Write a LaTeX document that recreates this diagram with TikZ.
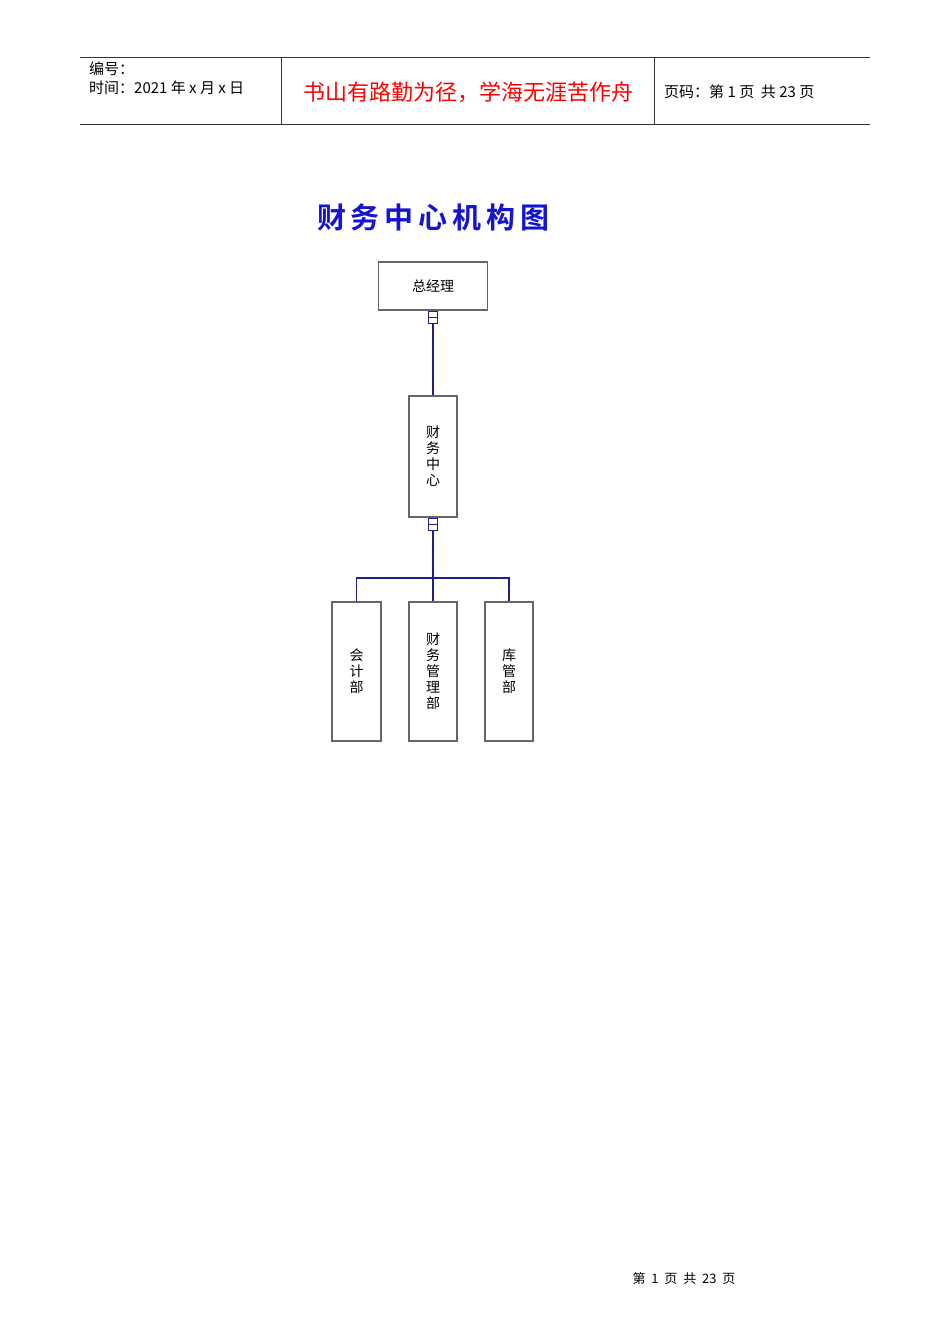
\documentclass[tikz,border=0pt]{standalone}
\usepackage{fontspec}
\newfontfamily\cjk{Noto Sans CJK SC}
\newfontfamily\cjkb{Noto Sans CJK SC Bold}
\begin{document}
\begin{tikzpicture}[x=1pt,y=-1pt,
  hline/.style={line width=0.8pt,black!80},
  box/.style={draw=black!60,line width=1.4pt,inner sep=0pt,font=\cjk\fontsize{14}{16}\selectfont},
  conn/.style={draw={rgb,255:red,30;green,30;blue,140},line width=1.2pt},
  endmark/.style={draw={rgb,255:red,30;green,30;blue,140},line width=1.1pt,minimum width=9pt,minimum height=12pt,inner sep=0pt}]
\useasboundingbox[fill=white] (0,0) rectangle (950,1344);
% header
\draw[hline] (80,57) -- (870,57);
\draw[hline] (80,124) -- (870,124);
\draw[hline] (281,57) -- (281,124);
\draw[hline] (654,57) -- (654,124);
\node[anchor=west,font=\cjk\fontsize{15}{16}\selectfont,inner sep=0pt] (h1) at (89,69) {编号：};
\node[anchor=west,font=\cjk\fontsize{15}{16}\selectfont,inner sep=0pt] (h2) at (89,88) {时间：2021 年 x 月 x 日};
\node[font=\cjk\fontsize{22}{24}\selectfont,text=red,inner sep=0pt] (motto) at (468,92) {书山有路勤为径，学海无涯苦作舟};
\node[anchor=west,font=\cjk\fontsize{15}{16}\selectfont,inner sep=0pt] (pg) at (664,92) {页码：第 1 页\ \ 共 23 页};
% title
\node[font=\cjkb\fontsize{29}{30}\selectfont,text={rgb,255:red,20;green,20;blue,210},inner sep=0pt] (title) at (433,217) {财\,务\,中\,心\,机\,构\,图};
% boxes
\node[box,minimum width=109pt,minimum height=48pt] (gm) at (433,286) {总经理};
\node[box,minimum width=48pt,minimum height=121pt,align=center] (fc) at (433,456.5) {财\\务\\中\\心};
\node[box,minimum width=49pt,minimum height=139pt,align=center] (b1) at (356.5,671.5) {会\\计\\部};
\node[box,minimum width=48pt,minimum height=139pt,align=center] (b2) at (433,671.5) {财\\务\\管\\理\\部};
\node[box,minimum width=48pt,minimum height=139pt,align=center] (b3) at (509,671.5) {库\\管\\部};
% markers
\node[endmark,anchor=north] (m1) at (gm.south) {};
\node[endmark,anchor=north] (m2) at (fc.south) {};
\draw[conn] (m1.west) -- (m1.east);
\draw[conn] (m2.west) -- (m2.east);
\coordinate (bus) at (433,578);
\draw[conn] (m1.south) -- (fc.north);
\draw[conn] (m2.south) -- (b2.north);
\draw[conn] (b1.north) |- (bus) -| (b3.north);
% footer
\node[font=\cjk\fontsize{13}{14}\selectfont,inner sep=0pt] (foot) at (684,1279) {第\ \ 1\ \ 页\ \ 共\ \ 23\ \ 页};
\end{tikzpicture}
\end{document}
